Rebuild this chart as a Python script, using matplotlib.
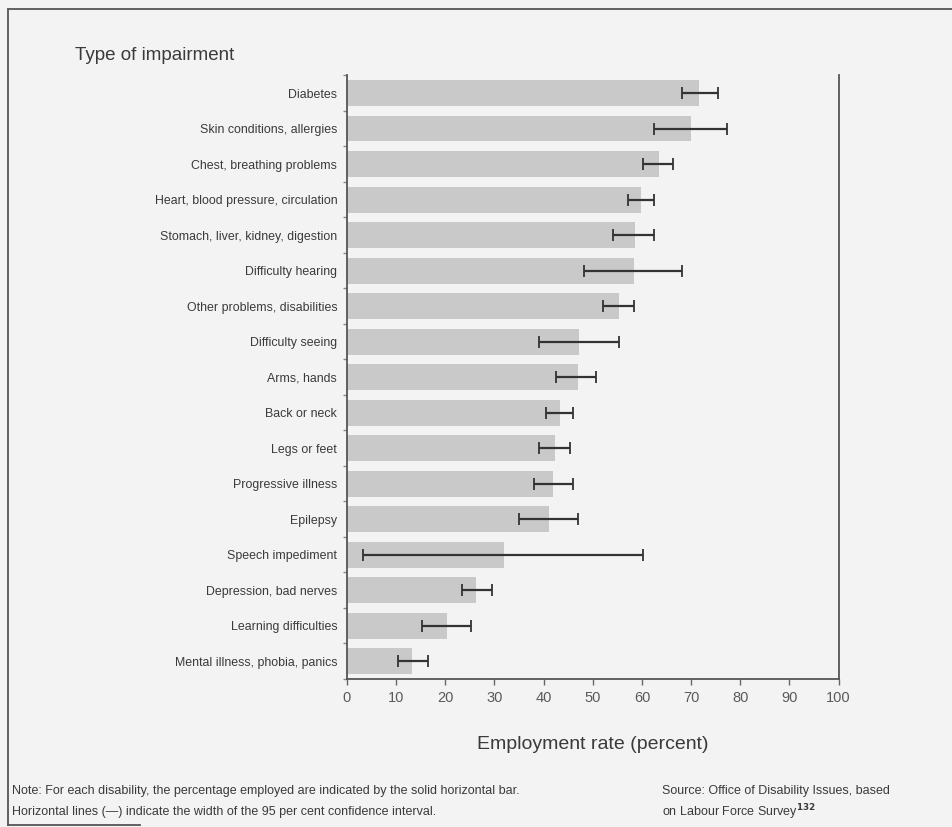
import matplotlib
matplotlib.use("Agg")
import matplotlib.pyplot as plt
import numpy as np

# Employment rate by type of impairment, with 95% confidence limits
categories = [
    "Diabetes",
    "Skin conditions, allergies",
    "Chest, breathing problems",
    "Heart, blood pressure, circulation",
    "Stomach, liver, kidney, digestion",
    "Difficulty hearing",
    "Other problems, disabilities",
    "Difficulty seeing",
    "Arms, hands",
    "Back or neck",
    "Legs or feet",
    "Progressive illness",
    "Epilepsy",
    "Speech impediment",
    "Depression, bad nerves",
    "Learning difficulties",
    "Mental illness, phobia, panics",
]
rates = [71.7, 70.0, 63.5, 59.9, 58.6, 58.4, 55.3, 47.3, 46.9, 43.4, 42.4,
         41.9, 41.2, 32.0, 26.3, 20.4, 13.2]
ci_low = [68.2, 62.4, 60.3, 57.1, 54.1, 48.3, 52.0, 39.1, 42.6, 40.5, 39.1,
          38.1, 35.0, 3.2, 23.4, 15.2, 10.3]
ci_high = [75.5, 77.2, 66.3, 62.5, 62.5, 68.1, 58.3, 55.3, 50.7, 46.0, 45.4,
           45.9, 47.0, 60.3, 29.5, 25.3, 16.4]
x_ticks = list(range(0, 101, 10))

plt.rcParams["font.family"] = ["Liberation Sans", "DejaVu Sans"]

bg = "#f3f3f3"
text_col = "#3a3a3a"

fig = plt.figure(figsize=(9.53, 8.27), dpi=100, facecolor=bg)
ax = fig.add_axes([0.364, 0.179, 0.516, 0.730])
ax.set_facecolor(bg)

y = np.arange(len(categories))
rates_a = np.array(rates)
err = np.vstack([rates_a - np.array(ci_low), np.array(ci_high) - rates_a])

ax.barh(y, rates_a, height=0.73, color="#c9c9c9", edgecolor="none", zorder=2)
ax.errorbar(rates_a, y, xerr=err, fmt="none", ecolor="#333333",
            elinewidth=1.6, capsize=4, capthick=1.3, zorder=3)

ax.set_xlim(0, 100)
ax.set_ylim(len(categories) - 0.5, -0.48)

ax.set_xticks(x_ticks)
ax.set_xticklabels([str(t) for t in x_ticks], fontsize=10.5, color="#5a5a5a")
ax.tick_params(axis="x", length=4, width=1, color="#666666", pad=5)

ax.set_yticks(y)
ax.set_yticklabels(categories, color=text_col, fontsize=8.9)
ax.tick_params(axis="y", length=0, pad=7)
ax.set_yticks(np.arange(len(categories) + 1) - 0.5, minor=True)
ax.tick_params(axis="y", which="minor", length=3, width=1, color="#888888")

for side in ["left", "right", "bottom"]:
    ax.spines[side].set_color("#555555")
    ax.spines[side].set_linewidth(1.3)
ax.spines["top"].set_visible(False)

ax.set_xlabel("Employment rate (percent)", fontsize=14, color=text_col, labelpad=22)

fig.text(75 / 953, 1 - 55 / 827, "Type of impairment", fontsize=13.5,
         color=text_col, va="center", ha="left")

note1 = "Note: For each disability, the percentage employed are indicated by the solid horizontal bar."
note2 = "Horizontal lines (\u2014) indicate the width of the 95 per cent confidence interval."
fig.text(12 / 953, 1 - 791 / 827, note1, fontsize=9, color=text_col, va="center")
fig.text(12 / 953, 1 - 812 / 827, note2, fontsize=9, color=text_col, va="center")
fig.text(662 / 953, 1 - 791 / 827, "Source: Office of Disability Issues, based",
         fontsize=9, color=text_col, va="center")
fig.text(662 / 953, 1 - 812 / 827, r"on Labour Force Survey$^{\mathbf{132}}$",
         fontsize=9, color=text_col, va="center")

# Outer frame around the figure panel
frame_kw = dict(color="#555555", linewidth=1.3, transform=fig.transFigure)
fig.add_artist(plt.Line2D([8 / 953, 8 / 953], [1 - 10 / 827, 1 - 825 / 827], **frame_kw))
fig.add_artist(plt.Line2D([8 / 953, 1.0], [1 - 9 / 827, 1 - 9 / 827], **frame_kw))
fig.add_artist(plt.Line2D([8 / 953, 140 / 953], [1 - 825 / 827, 1 - 825 / 827], **frame_kw))

fig.savefig("out.png", dpi=100, facecolor=bg)
